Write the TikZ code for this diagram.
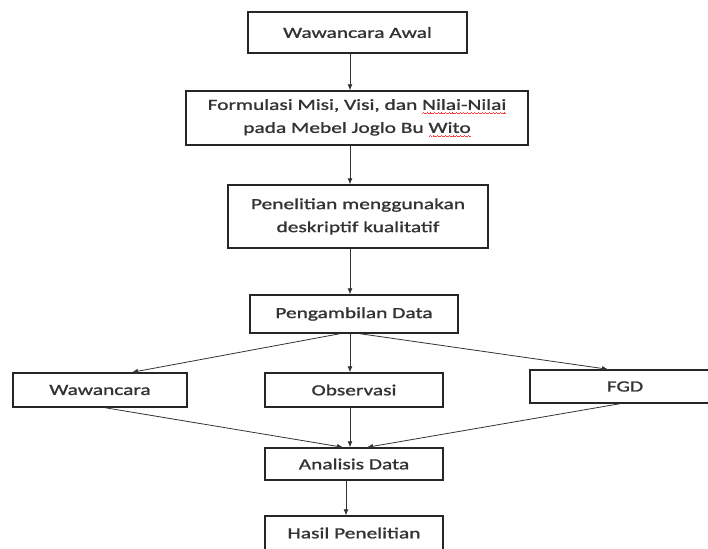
\documentclass[tikz,border=0pt]{standalone}
\usepackage{fontspec}
\setmainfont{Carlito}[FakeStretch=1.38,FakeBold=1.3]
\usetikzlibrary{arrows.meta}
% red spell-check squiggle under a word
\newcommand\salah[1]{\setbox0=\hbox{#1}\rlap{\color{red!75}\hbox to\wd0{\xleaders\hbox{\rule[-3.4pt]{0.9pt}{0.6pt}\rule[-2.8pt]{0.9pt}{0.6pt}\rule[-3.4pt]{0.9pt}{0.6pt}\rule[-4pt]{0.9pt}{0.6pt}}\hfill}}\box0}
\begin{document}
\begin{tikzpicture}[x=1pt,y=-1pt,font=\fontsize{15.5}{23}\selectfont,
  kotak/.style={draw=black!85,line width=1.4pt,inner sep=0pt,align=center,text=black!80},
  panah/.style={-{Latex[length=6pt,width=5pt]},line width=0.8pt,draw=black!80}]
\useasboundingbox (0,0) rectangle (708,548);
\node[kotak,minimum width=219,minimum height=41] (awal) at (357.5,32.5) {Wawancara Awal};
\node[kotak,minimum width=342,minimum height=54] (misi) at (357,118)
  {Formulasi Misi, Visi, dan \salah{Nilai-Nilai}\\pada Mebel Joglo Bu \salah{Wito}};
\node[kotak,minimum width=260,minimum height=63] (teliti) at (358,216.5)
  {Penelitian menggunakan\\deskriptif kualitatif};
\node[kotak,minimum width=208,minimum height=38] (ambil) at (354,314) {Pengambilan Data};
\node[kotak,minimum width=174,minimum height=34] (waw) at (100,390) {Wawancara};
\node[kotak,minimum width=178,minimum height=34] (obs) at (354,390) {Observasi};
\node[kotak,minimum width=190,minimum height=33] (fgd) at (625,386.5) {FGD};
\node[kotak,minimum width=178,minimum height=32] (anal) at (354,464) {Analisis Data};
\node[kotak,minimum width=178,minimum height=34] (hasil) at (354,533) {Hasil Penelitian};
% arrows
\coordinate (as) at (350,0);
\draw[panah] (awal.south -| as) -- (misi.north -| as);
\draw[panah] (misi.south -| as) -- (teliti.north -| as);
\draw[panah] (teliti.south -| as) -- (ambil.north -| as);
\draw[panah] (ambil.south -| as) -- (obs.north -| as);
\draw[panah] (obs.south -| as) -- (anal.north -| as);
\draw[panah] ([xshift=-4pt]anal.south -| as) -- ([xshift=-4pt]hasil.north -| as);
\draw[panah] ([xshift=-14pt]ambil.south) -- ([xshift=32pt]waw.north);
\draw[panah] ([xshift=6pt]ambil.south) -- ([xshift=-17pt]fgd.north);
\draw[panah] ([xshift=5pt]waw.south) -- ([xshift=-11pt]anal.north);
\draw[panah] ([xshift=-5pt]fgd.south) -- ([xshift=13pt]anal.north);
\end{tikzpicture}
\end{document}
